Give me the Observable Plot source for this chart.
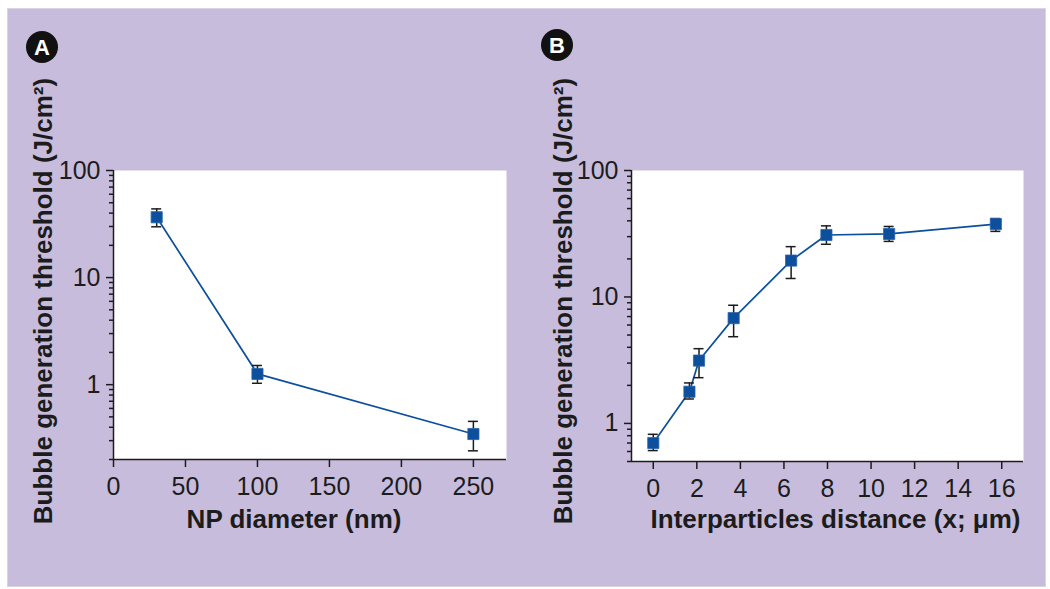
<!DOCTYPE html>
<html><head><meta charset="utf-8">
<script src="https://cdn.jsdelivr.net/npm/d3@7"></script>
<script src="https://cdn.jsdelivr.net/npm/@observablehq/plot@0.6"></script>
<style>
body{margin:0;background:#fff;}
#wrap{position:relative;width:1050px;height:589px;background:#fff;overflow:hidden;font-family:"Liberation Sans",Arial,sans-serif;}
#panel{position:absolute;left:7px;top:8px;width:1037px;height:577px;background:#c8bcdc;border:1px solid #d9d3e3;}
.plotbox{position:absolute;top:0;}
.badge{position:absolute;width:32px;height:32px;border-radius:50%;background:#111;color:#fff;font:bold 22px "Liberation Sans",Arial,sans-serif;text-align:center;line-height:33px;z-index:2;}
</style></head><body>
<div id="wrap"><div id="panel"></div>
<div id="a" class="plotbox" style="left:0"></div>
<div id="b" class="plotbox" style="left:525px"></div>
<div class="badge" style="left:26px;top:31px">A</div>
<div class="badge" style="left:541px;top:29px">B</div>
</div>
<script>
// Panel A data
const diameter = [30, 100, 250];
const thresholdA = [36.6, 1.26, 0.346];
const errHighA = [43.8, 1.51, 0.454];
const errLowA = [29.8, 1.03, 0.241];

// Panel B data
const distance = [0, 1.66, 2.1, 3.69, 6.33, 7.95, 10.83, 15.73];
const thresholdB = [0.70, 1.78, 3.14, 6.8, 19.4, 30.9, 31.5, 37.7];
const errHighB = [0.82, 2.09, 3.9, 8.6, 25, 36.5, 36.1, 41.7];
const errLowB = [0.61, 1.56, 2.30, 4.85, 14.0, 26.1, 27.5, 33];

// Ticks and labels
const majorTicks = [1, 10, 100];
const minorTicksA = [0.2,0.3,0.4,0.5,0.6,0.7,0.8,0.9,2,3,4,5,6,7,8,9,20,30,40,50,60,70,80,90];
const minorTicksB = [0.5,0.6,0.7,0.8,0.9,2,3,4,5,6,7,8,9,20,30,40,50,60,70,80,90];
const xTicksA = [0, 50, 100, 150, 200, 250];
const xTicksB = [0, 2, 4, 6, 8, 10, 12, 14, 16];
const yTitle = "Bubble generation threshold (J/cm²)";
const xTitleA = "NP diameter (nm)";
const xTitleB = "Interparticles distance (x; μm)";

const blue = "#0b4f9d";
const ink = "#1c1c1c";
const font = "'Liberation Sans', Arial, sans-serif";

function panel(o) {
  const data = o.xs.map((x, i) => ({x, y: o.ys[i], hi: o.hi[i], lo: o.lo[i]}));
  return Plot.plot({
    width: 525, height: 589,
    marginTop: 170, marginBottom: o.marginBottom, marginLeft: o.marginLeft, marginRight: o.marginRight,
    style: {background: "transparent", fontFamily: font, color: ink, overflow: "visible"},
    x: {domain: o.xDomain},
    y: {type: "log", domain: o.yDomain},
    marks: [
      Plot.frame({fill: "white", stroke: "none"}),
      Plot.axisY({ticks: majorTicks, tickSize: 7, tickPadding: 6, fontSize: 25, tickFormat: d => String(d), label: null, strokeWidth: 1.5}),
      Plot.axisY({ticks: o.minor, tickSize: 4, tickFormat: () => "", label: null, strokeWidth: 1.5}),
      Plot.axisX({ticks: o.xTicks, tickSize: 8, tickPadding: 10, fontSize: 25, label: null, strokeWidth: 1.5}),
      Plot.ruleX([o.xDomain[0]], {stroke: ink, strokeWidth: 1.5}),
      Plot.ruleY([o.yDomain[0]], {stroke: ink, strokeWidth: 1.5}),
      Plot.line(data, {x: "x", y: "y", stroke: blue, strokeWidth: 1.7}),
      Plot.ruleX(data, {x: "x", y1: "lo", y2: "hi", stroke: ink, strokeWidth: 1.5}),
      Plot.ruleY(data, {y: "hi", x1: "x", x2: "x", insetLeft: -5, insetRight: -5, stroke: ink, strokeWidth: 1.5}),
      Plot.ruleY(data, {y: "lo", x1: "x", x2: "x", insetLeft: -5, insetRight: -5, stroke: ink, strokeWidth: 1.5}),
      Plot.dot(data, {x: "x", y: "y", symbol: "square", r: 6.3, fill: blue, stroke: "#2a64ad", strokeWidth: 0.8}),
      Plot.text([yTitle], {text: d => d, frameAnchor: "left", textAnchor: "middle", lineAnchor: "middle", rotate: -90, dx: o.yTitleDx, dy: o.yTitleDy, fontSize: 26, fontWeight: "bold", fill: ink}),
      Plot.text([o.xTitle], {text: d => d, frameAnchor: "bottom", textAnchor: "middle", lineAnchor: "middle", dx: o.xTitleDx, dy: o.xTitleDy, fontSize: 26, fontWeight: "bold", fill: ink})
    ]
  });
}

document.getElementById("a").append(panel({
  xs: diameter, ys: thresholdA, hi: errHighA, lo: errLowA,
  xDomain: [0, 273], yDomain: [0.2, 100], xTicks: xTicksA, minor: minorTicksA, xTitle: xTitleA,
  marginLeft: 113, marginRight: 19, marginBottom: 130,
  yTitleDx: -70, yTitleDy: -14, xTitleDx: -16, xTitleDy: 60
}));
document.getElementById("b").append(panel({
  xs: distance, ys: thresholdB, hi: errHighB, lo: errLowB,
  xDomain: [-1, 17], yDomain: [0.5, 100], xTicks: xTicksB, minor: minorTicksB, xTitle: xTitleB,
  marginLeft: 106, marginRight: 27, marginBottom: 128,
  yTitleDx: -68, yTitleDy: -15, xTitleDx: 8, xTitleDy: 58
}));
</script>
</body></html>
